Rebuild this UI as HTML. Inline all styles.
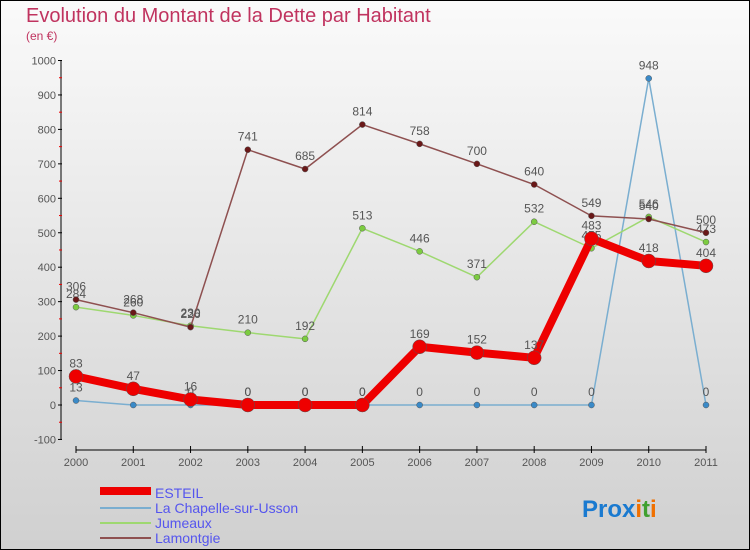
<!DOCTYPE html>
<html><head><meta charset="utf-8"><style>
body{margin:0}
#c{width:750px;height:550px;position:relative;overflow:hidden;box-sizing:border-box;border:1px solid #000;background:linear-gradient(#fafafa,#d0d0d0);font-family:"Liberation Sans",sans-serif}
</style></head><body>
<div id="c">
<svg id="s" width="750" height="550" style="position:absolute;left:-1px;top:-1px" font-family="Liberation Sans, sans-serif">
<text x="26" y="22" font-size="20" fill="#c0335f">Evolution du Montant de la Dette par Habitant</text>
<text x="26" y="40" font-size="12" fill="#c0335f">(en €)</text>
<g id="ax"></g><g id="ser"></g>
<g>
<rect x="100" y="487" width="51" height="8" fill="#e00"/>
<line x1="100" y1="508" x2="151" y2="508" stroke="#7aaed0" stroke-width="2"/>
<line x1="100" y1="523" x2="151" y2="523" stroke="#9ed870" stroke-width="2"/>
<line x1="100" y1="538" x2="151" y2="538" stroke="#8e5050" stroke-width="2"/>
<g font-size="14" fill="#5555ee">
<text x="155" y="498">ESTEIL</text>
<text x="155" y="513">La Chapelle-sur-Usson</text>
<text x="155" y="528">Jumeaux</text>
<text x="155" y="543">Lamontgie</text>
</g></g>
<text x="582" y="517" font-size="24" font-weight="bold"><tspan fill="#1a7ad0">Pro</tspan><tspan fill="#1a7ad0">x</tspan><tspan fill="#f07000">i</tspan><tspan fill="#40a030">t</tspan><tspan fill="#f07000">i</tspan></text>
</svg></div>
<script>
const years=[2000,2001,2002,2003,2004,2005,2006,2007,2008,2009,2010,2011];
const yTicks=[-100,0,100,200,300,400,500,600,700,800,900,1000];
const esteil=[83,47,16,0,0,0,169,152,137,483,418,404];
const chapelle=[13,0,0,0,0,0,0,0,0,0,948,0];
const jumeaux=[284,260,230,210,192,513,446,371,532,455,546,473];
const lamontgie=[306,268,226,741,685,814,758,700,640,549,540,500];
const NS="http://www.w3.org/2000/svg";
const X=i=>76+i*(630/11);
const Y=v=>405-v*0.3445;
function el(t,a,p){const e=document.createElementNS(NS,t);for(const k in a)e.setAttribute(k,a[k]);p.appendChild(e);return e;}
const ax=document.getElementById('ax');
let e=el('line',{x1:61,y1:Y(1000),x2:61,y2:Y(-100),stroke:'#000'},ax);


e=el('line',{x1:76,y1:450,x2:706,y2:450,stroke:'#000'},ax);


yTicks.forEach(v=>{
 el('line',{x1:58,y1:Y(v),x2:62,y2:Y(v),stroke:'#000'},ax);
 if(v<1000)el('line',{x1:59,y1:Y(v+50),x2:62,y2:Y(v+50),stroke:'#e00'},ax);
 const t=el('text',{x:56,y:Y(v)+4,'font-size':11,fill:'#555','text-anchor':'end'},ax);t.textContent=v;
 
 
});
years.forEach((y,i)=>{
 el('line',{x1:X(i),y1:446,x2:X(i),y2:453,stroke:'#000'},ax);
 const t=el('text',{x:X(i),y:466,'font-size':11,fill:'#555','text-anchor':'middle'},ax);t.textContent=y;
 
 
});
const ser=document.getElementById('ser');
function draw(data,col,w,r,name,dot){
 const g=el('g',{},ser);
 
 
 el('polyline',{points:data.map((v,i)=>X(i)+','+Y(v)).join(' '),fill:'none',stroke:col,'stroke-width':w,'stroke-linejoin':'round'},g);
 data.forEach((v,i)=>{
  const c=el('circle',{cx:X(i),cy:Y(v),r:r,fill:dot,stroke:'#555','stroke-width':0.5},g);
  
  
  const t=el('text',{x:X(i),y:Y(v)-9,'font-size':12,fill:'#555','text-anchor':'middle'},g);t.textContent=v;
  
  
 });
}
draw(chapelle,'#7aaed0',1.5,3,'series-chapelle','#3a8ac8');
draw(jumeaux,'#9ed870',1.5,3,'series-jumeaux','#7ccc40');
draw(lamontgie,'#8e5050',1.5,3,'series-lamontgie','#6a1818');
draw(esteil,'#e00',8,7,'series-esteil','#e00');
</script>
</body></html>
